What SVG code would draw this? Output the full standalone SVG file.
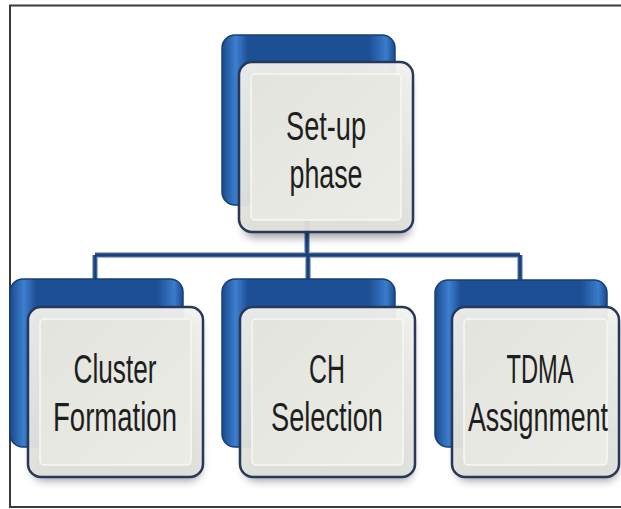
<svg xmlns="http://www.w3.org/2000/svg" width="621" height="509" viewBox="0 0 621 509">
<defs>
  <linearGradient id="blueG" x1="0" y1="0" x2="1" y2="0">
    <stop offset="0" stop-color="#1a4a8c"/>
    <stop offset="0.08" stop-color="#3d7fd0"/>
    <stop offset="0.15" stop-color="#1d4f94"/>
    <stop offset="0.85" stop-color="#1d4f94"/>
    <stop offset="0.95" stop-color="#3a7ccc"/>
    <stop offset="1" stop-color="#1a4a8c"/>
  </linearGradient>
  <linearGradient id="faceG" x1="0" y1="0" x2="0" y2="1">
    <stop offset="0" stop-color="#f2f2ee"/>
    <stop offset="1" stop-color="#e2e2dc"/>
  </linearGradient>
  <linearGradient id="innerG" x1="0" y1="0" x2="1" y2="1">
    <stop offset="0" stop-color="#e4e4de"/>
    <stop offset="1" stop-color="#ecece6"/>
  </linearGradient>
  <filter id="sh" x="-20%" y="-20%" width="140%" height="150%">
    <feGaussianBlur stdDeviation="4"/>
  </filter>
</defs>
<style>
  .frame { stroke: #3a3a3a; stroke-width: 2; fill: none; }
  .back { fill: url(#blueG); stroke: #163f78; stroke-width: 1.5; }
  .shadow { fill: #000; opacity: 0.35; filter: url(#sh); }
  .face { fill: url(#faceG); fill-opacity: 0.95; stroke: #27385a; stroke-width: 2.5; }
  .inner { fill: url(#innerG); stroke: #f8f8f4; stroke-width: 1.5; }
  .halo { stroke: #9db3d3; stroke-width: 6; fill: none; }
  .core { stroke: #1c4177; stroke-width: 3.5; fill: none; }
  .lbl { font-family: "Liberation Sans", Arial, sans-serif; font-size: 41px; fill: #1e1e1e; text-anchor: middle; }
</style>
<rect x="0" y="0" width="621" height="509" fill="#ffffff"/>
<path class="frame" d="M10 508 V5.5 H621 M10 507 H621"/>

<g id="connectors">
  <path class="halo" d="M307 205 V255 M95 255 H520 M95 255 V280 M308 255 V280 M520 255 V280"/>
  <path class="core" d="M307 205 V255 M95 255 H520 M95 255 V280 M308 255 V280 M520 255 V280"/>
</g>

<g id="setup">
  <rect class="back" x="222" y="35" width="173" height="170" rx="13"/>
  <rect class="shadow" x="243" y="72" width="168" height="166" rx="12"/>
  <rect class="face" x="239" y="62" width="174" height="170" rx="13"/>
  <rect class="inner" x="251" y="74" width="150" height="146" rx="4"/>
  <text class="lbl" transform="translate(326,140) scale(0.662,1)">Set-up</text>
  <text class="lbl" transform="translate(326,188) scale(0.654,1)">phase</text>
</g>

<g id="cluster">
  <rect class="back" x="10" y="279" width="173" height="168" rx="13"/>
  <rect class="shadow" x="32" y="317" width="169" height="164" rx="12"/>
  <rect class="face" x="28" y="307" width="175" height="170" rx="13"/>
  <rect class="inner" x="40" y="319" width="151" height="146" rx="4"/>
  <text class="lbl" transform="translate(115,383) scale(0.639,1)">Cluster</text>
  <text class="lbl" transform="translate(115,431) scale(0.672,1)">Formation</text>
</g>

<g id="ch">
  <rect class="back" x="222" y="279" width="173" height="168" rx="13"/>
  <rect class="shadow" x="244" y="317" width="169" height="164" rx="12"/>
  <rect class="face" x="240" y="307" width="175" height="170" rx="13"/>
  <rect class="inner" x="252" y="319" width="151" height="146" rx="4"/>
  <text class="lbl" transform="translate(327,383) scale(0.608,1)">CH</text>
  <text class="lbl" transform="translate(327,431) scale(0.664,1)">Selection</text>
</g>

<g id="tdma">
  <rect class="back" x="435" y="280" width="172" height="167" rx="13"/>
  <rect class="shadow" x="456" y="317" width="162" height="164" rx="12"/>
  <rect class="face" x="452" y="307" width="167" height="170" rx="13"/>
  <rect class="inner" x="464" y="319" width="143" height="146" rx="4"/>
  <text class="lbl" transform="translate(540,383) scale(0.577,1)">TDMA</text>
  <text class="lbl" transform="translate(538,431) scale(0.654,1)">Assignment</text>
</g>
</svg>
